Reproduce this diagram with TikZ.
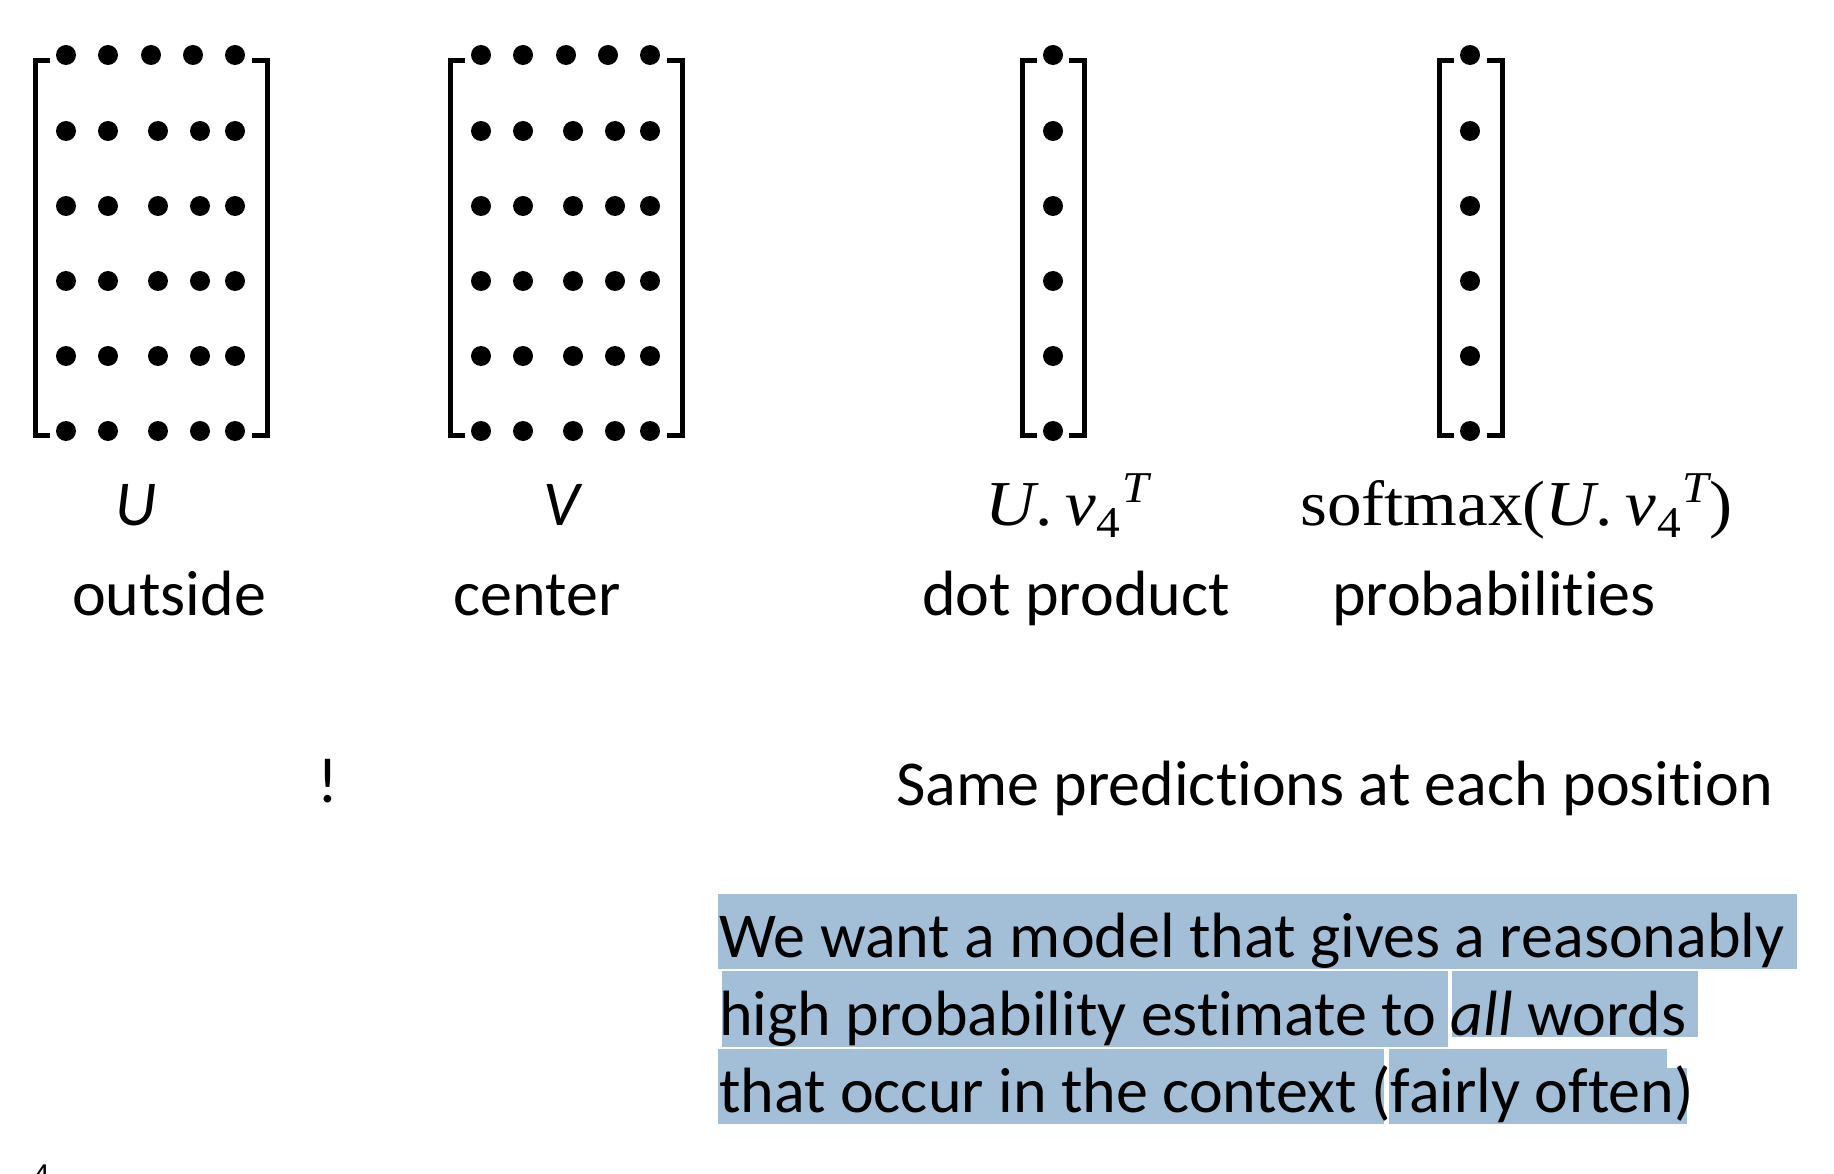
\RequirePackage{fix-cm}
\documentclass[tikz,border=0pt]{standalone}
\usepackage{fontspec}
\setmainfont{Carlito}[Ligatures=NoCommon]
\newfontfamily\pgnumfont{Liberation Sans}
\newfontfamily\cmb{Liberation Serif}[FakeStretch=1.08]
\definecolor{hlblue}{RGB}{163,191,216}
\newcommand\smallsz{\fontsize{44}{50}\selectfont}
\newcommand\uvexpr{\textit{U}.\kern0.2em\textit{v}\kern0.01em\raisebox{-12pt}{\smallsz 4}\kern0.03em\raisebox{23pt}{\smallsz\itshape T}}
\tikzset{
  brk/.style={line width=5pt},
  lbl/.style={anchor=base, inner sep=0pt, font=\fontsize{64}{76}\selectfont},
  mlbl/.style={anchor=base west, inner sep=0pt, font=\cmb\fontsize{64}{76}\selectfont},
  txt/.style={anchor=base west, inner sep=0pt, font=\fontsize{64}{76}\selectfont},
  hl/.style={fill=hlblue, draw=none}
}
\begin{document}
\begin{tikzpicture}[x=1pt,y=-1pt]
\useasboundingbox (0,0) rectangle (1834,1174);
% ---- matrices U and V ----
\foreach \off in {0,415}{
  \foreach \cx in {66,108,151,193,235}{\fill (\cx+\off,55) circle (10);}
  \foreach \cy in {131,206,281,356,431}{
    \foreach \cx in {66,108,158,200,235}{\fill (\cx+\off,\cy) circle (10);}
  }
  \draw[brk] (50+\off,61) -- (35+\off,61) -- (35+\off,435) -- (50+\off,435);
  \draw[brk] (252+\off,61) -- (267+\off,61) -- (267+\off,435) -- (252+\off,435);
}
% ---- column vectors ----
\foreach \cl/\cr/\cx in {1022/1084/1053, 1439/1502/1470}{
  \foreach \cy in {55,131,206,281,356,431}{\fill (\cx,\cy) circle (10);}
  \draw[brk] (\cl+15,61) -- (\cl,61) -- (\cl,435) -- (\cl+15,435);
  \draw[brk] (\cr-15,61) -- (\cr,61) -- (\cr,435) -- (\cr-15,435);
}
% ---- labels ----
\node[lbl] (lu) at (136,525) {\textit{U}};
\node[lbl] (lout) at (169,615) {outside};
\node[lbl] (lv) at (563,525) {\textit{V}};
\node[lbl] (lcen) at (537,615) {center};
\node[mlbl] (ldot) at (985,525) {\uvexpr};
\node[lbl] (ldp) at (1076,615) {dot product};
\node[mlbl] (lsm) at (1300,525) {softmax(\uvexpr)};
\node[lbl] (lprob) at (1494,615) {probabilities};
\node[lbl] (excl) at (328,802) {!};
\node[txt] (same) at (896,805) {Same predictions at each position};
% ---- highlighted statement ----
\fill[hl] (718,894) rectangle (1797,969);
\fill[hl] (722,971) rectangle (1448,1047);
\fill[hl] (1452,971) rectangle (1698,1037);
\fill[hl] (718,1049) rectangle (1384,1124);
\fill[hl] (1389,1049) rectangle (1667,1124);
\fill[hl] (1667,1068) rectangle (1687,1124);
\node[txt] (l1) at (719,957) {We want a model that gives a reasonably};
\node[txt] (l2) at (719,1035) {high probability estimate to \textit{all} words};
\node[txt] (l3) at (719,1112) {that occur in the context (fairly often)};
% ---- slide number (cut off) ----
\node[anchor=base west, inner sep=0pt, font=\pgnumfont\fontsize{30}{36}\selectfont] (pg) at (33,1185) {4};
\end{tikzpicture}
\end{document}
